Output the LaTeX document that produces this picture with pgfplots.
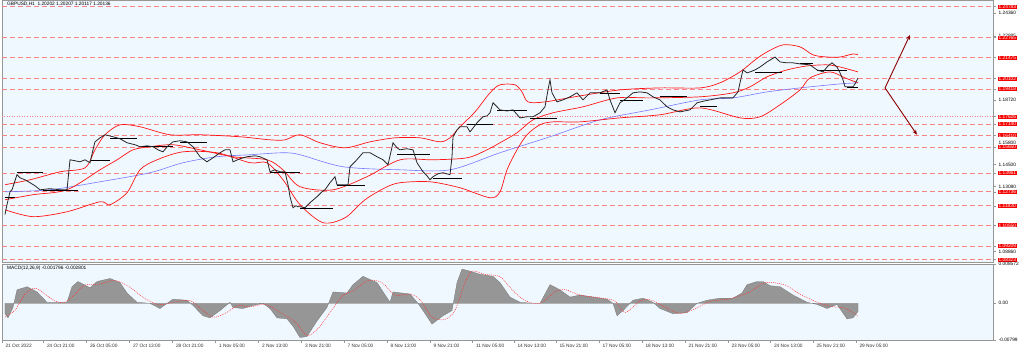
\documentclass[border=0pt]{standalone}
\usepackage{fontspec}
\setmainfont{Liberation Sans}
\usepackage{pgfplots}
\pgfplotsset{compat=1.18}
\usetikzlibrary{arrows.meta}
\definecolor{bgc}{RGB}{240,248,255}
\definecolor{lvl}{RGB}{255,130,130}
\definecolor{bandred}{RGB}{255,20,20}
\definecolor{maBlue}{RGB}{120,120,255}
\definecolor{arrowred}{RGB}{140,0,0}
\definecolor{boxred}{RGB}{245,0,0}
\definecolor{framec}{RGB}{150,150,150}
\definecolor{histc}{RGB}{150,150,150}
\pgfplotsset{
  mtbase/.style={
    scale only axis, width=991pt,
    xmin=2, xmax=993,
    clip mode=individual,
    axis background/.style={fill=bgc},
    axis line style={framec, line width=0.8pt},
    tick style={framec, line width=0.5pt},
    tick align=outside, major tick length=2.5pt,
    ytick pos=right,
    scaled y ticks=false,
    tick label style={font=\fontsize{4.8}{5.5}\selectfont, /pgf/number format/assume math mode=true},
    yticklabel style={anchor=west, xshift=2pt, inner xsep=1pt, inner ysep=0.3pt},
  }
}
\begin{document}
\begin{tikzpicture}
\useasboundingbox (0,0) rectangle (1024pt,351pt);
\fill[white] (0,0) rectangle (1024pt,351pt);
% ---------------- main price panel ----------------
\begin{axis}[mtbase,
  at={(2pt,89pt)}, anchor=south west, height=262pt,
  ymin=1.0817, ymax=1.2522,
  xtick=\empty,
  ytick={1.24360,1.22885,1.18720,1.14500,1.13080,1.08860},
  yticklabels={1.24360,1.22885,1.18720,1.14500,1.13080,1.08860},
  extra y ticks={1.24783,1.22765,1.21475,1.20102,1.19418,1.17626,1.17140,1.16410,1.15650,1.13961,1.12736,1.11830,1.10550,1.09209,1.08323},
  extra y tick labels={1.24783,1.22765,1.21475,1.20102,1.19418,1.17626,1.17140,1.16410,1.15650,1.13961,1.12736,1.11830,1.10550,1.09209,1.08323},
  extra y tick style={yticklabel style={fill=boxred, text=white}},
]
% support / resistance levels
\addplot[lvl, line width=0.9pt, dash pattern=on 5pt off 3pt, unbounded coords=jump] coordinates {
(2,1.24783)(993,1.24783)(993,nan)
(2,1.22765)(993,1.22765)(993,nan)
(2,1.21475)(993,1.21475)(993,nan)
(2,1.20102)(993,1.20102)(993,nan)
(2,1.19418)(993,1.19418)(993,nan)
(2,1.17140)(993,1.17140)(993,nan)
(2,1.16410)(993,1.16410)(993,nan)
(2,1.15650)(993,1.15650)(993,nan)
(2,1.13961)(993,1.13961)(993,nan)
(2,1.12736)(993,1.12736)(993,nan)
(2,1.11830)(993,1.11830)(993,nan)
(2,1.10550)(993,1.10550)(993,nan)
(2,1.09209)(993,1.09209)(993,nan)
(2,1.08323)(993,1.08323)
};
\addplot[lvl, line width=0.7pt, dash pattern=on 1pt off 1.5pt] coordinates {(2,1.17626)(993,1.17626)};
% long moving average (blue)
\addplot[maBlue, line width=0.6pt, smooth] coordinates {
(5,1.1274)(50,1.1287)(100,1.1339)(150,1.1398)(183,1.1463)(217,1.1502)(250,1.1515)(283,1.1528)(300,1.1515)(343,1.1437)(400,1.1417)(450,1.1417)(500,1.1528)(550,1.1632)(600,1.1742)(650,1.1807)(700,1.1872)(733,1.1885)(767,1.1924)(800,1.1950)(840,1.1976)(858,1.1983)
};
% Bollinger bands
\addplot[bandred, line width=0.7pt, smooth] coordinates {
(5,1.1320)(30,1.1352)(60,1.1404)(85,1.1430)(95,1.1547)(105,1.1645)(120,1.1710)(140,1.1697)(170,1.1645)(200,1.1645)(240,1.1632)(270,1.1612)(285,1.1612)(300,1.1645)(320,1.1593)(345,1.1560)(370,1.1599)(395,1.1625)(420,1.1625)(440,1.1599)(450,1.1625)(460,1.1697)(475,1.1794)(490,1.1918)(500,1.1970)(515,1.1970)(522,1.1924)(528,1.1859)(545,1.1859)(580,1.1898)(620,1.1937)(660,1.1950)(700,1.1950)(720,1.1983)(740,1.2054)(755,1.2132)(767,1.2184)(783,1.2230)(800,1.2217)(813,1.2165)(827,1.2151)(840,1.2151)(853,1.2171)(858,1.2165)
};
\addplot[bandred, line width=0.7pt, smooth] coordinates {
(5,1.1222)(33,1.1255)(67,1.1287)(100,1.1417)(117,1.1482)(133,1.1547)(150,1.1567)(173,1.1580)(200,1.1547)(233,1.1502)(267,1.1482)(283,1.1417)(300,1.1307)(333,1.1287)(367,1.1372)(400,1.1482)(433,1.1482)(467,1.1495)(487,1.1547)(500,1.1593)(517,1.1658)(533,1.1742)(553,1.1788)(583,1.1827)(617,1.1885)(650,1.1885)(700,1.1892)(733,1.1918)(750,1.1957)(767,1.2022)(787,1.2067)(807,1.2093)(827,1.2100)(840,1.2086)(858,1.2054)
};
\addplot[bandred, line width=0.7pt, smooth] coordinates {
(5,1.1157)(33,1.1112)(67,1.1144)(100,1.1209)(110,1.1190)(127,1.1268)(140,1.1417)(157,1.1482)(183,1.1534)(217,1.1528)(250,1.1463)(267,1.1463)(283,1.1352)(300,1.1190)(323,1.1073)(345,1.1105)(365,1.1222)(385,1.1300)(400,1.1333)(430,1.1339)(460,1.1300)(490,1.1235)(500,1.1274)(507,1.1417)(517,1.1547)(527,1.1645)(540,1.1710)(553,1.1729)(580,1.1729)(620,1.1755)(660,1.1775)(700,1.1820)(740,1.1755)(760,1.1762)(780,1.1840)(800,1.1937)(810,1.2015)(830,1.2054)(845,1.2015)(858,1.1983)
};
% period high/low marks (black segments)
\addplot[black, line width=0.6pt, unbounded coords=jump] coordinates {
(5,1.1235)(15,1.1235)(15,nan)
(17,1.1398)(43,1.1398)(43,nan)
(43,1.1281)(78,1.1281)(78,nan)
(90,1.1482)(110,1.1482)(110,nan)
(110,1.1619)(137,1.1619)(137,nan)
(143,1.1573)(173,1.1573)(173,nan)
(180,1.1599)(207,1.1599)(207,nan)
(270,1.1398)(300,1.1398)(300,nan)
(300,1.1164)(333,1.1164)(333,nan)
(337,1.1313)(365,1.1313)(365,nan)
(397,1.1515)(430,1.1515)(430,nan)
(433,1.1359)(462,1.1359)(462,nan)
(467,1.1710)(493,1.1710)(493,nan)
(497,1.1807)(527,1.1807)(527,nan)
(530,1.1755)(557,1.1755)(557,nan)
(600,1.1918)(620,1.1918)(620,nan)
(620,1.1872)(643,1.1872)(643,nan)
(660,1.1898)(687,1.1898)(687,nan)
(700,1.1827)(717,1.1827)(717,nan)
(755,1.2054)(782,1.2054)(782,nan)
(800,1.2113)(813,1.2113)(813,nan)
(817,1.2067)(847,1.2067)(847,nan)
(847,1.1957)(858,1.1957)
};
% price (H1 closes)
\addplot[black!85, line width=0.8pt] coordinates {
(5,1.1125)(7,1.1190)(10,1.1274)(12,1.1287)(17,1.1385)(20,1.1365)(25,1.1352)(30,1.1333)(35,1.1313)(40,1.1287)(50,1.1294)(60,1.1287)(67,1.1287)(70,1.1482)(75,1.1476)(80,1.1469)(85,1.1482)(90,1.1463)(93,1.1547)(95,1.1599)(100,1.1625)(105,1.1645)(113,1.1632)(120,1.1619)(127,1.1593)(135,1.1580)(140,1.1567)(147,1.1573)(153,1.1567)(158,1.1547)(163,1.1534)(168,1.1573)(173,1.1599)(180,1.1606)(187,1.1599)(193,1.1567)(200,1.1502)(207,1.1469)(213,1.1495)(220,1.1528)(225,1.1547)(230,1.1547)(233,1.1469)(240,1.1489)(247,1.1502)(255,1.1508)(260,1.1502)(267,1.1482)(270,1.1404)(275,1.1417)(280,1.1404)(285,1.1404)(288,1.1320)(290,1.1242)(293,1.1170)(296,1.1183)(298,1.1177)(300,1.1177)(305,1.1170)(310,1.1203)(317,1.1242)(322,1.1274)(325,1.1287)(330,1.1333)(335,1.1372)(337,1.1320)(342,1.1320)(348,1.1320)(350,1.1437)(355,1.1469)(363,1.1528)(370,1.1528)(377,1.1502)(383,1.1482)(388,1.1450)(393,1.1593)(397,1.1560)(400,1.1547)(407,1.1554)(413,1.1547)(417,1.1463)(423,1.1404)(427,1.1378)(430,1.1352)(433,1.1372)(438,1.1391)(443,1.1398)(450,1.1385)(452,1.1502)(453,1.1632)(457,1.1677)(460,1.1697)(467,1.1697)(470,1.1664)(474,1.1697)(477,1.1723)(483,1.1762)(487,1.1768)(490,1.1788)(493,1.1853)(497,1.1827)(500,1.1807)(507,1.1800)(513,1.1807)(520,1.1755)(527,1.1762)(533,1.1762)(540,1.1788)(545,1.1827)(548,1.1937)(550,1.2002)(552,1.1918)(557,1.1859)(563,1.1872)(570,1.1892)(577,1.1918)(583,1.1872)(590,1.1918)(600,1.1918)(607,1.1937)(610,1.1872)(615,1.1788)(620,1.1853)(627,1.1885)(633,1.1918)(640,1.1924)(647,1.1918)(653,1.1892)(660,1.1872)(667,1.1827)(673,1.1807)(680,1.1794)(690,1.1807)(697,1.1853)(705,1.1866)(710,1.1872)(720,1.1885)(733,1.1885)(738,1.1924)(740,1.1983)(743,1.2067)(747,1.2048)(750,1.2054)(755,1.2067)(760,1.2086)(767,1.2119)(775,1.2151)(780,1.2119)(787,1.2113)(793,1.2113)(800,1.2106)(810,1.2100)(817,1.2067)(823,1.2054)(828,1.2093)(832,1.2113)(837,1.2086)(840,1.2048)(843,1.2002)(845,1.1957)(849,1.1957)(853,1.1957)(855,1.1976)(857,1.2002)(858,1.2014)
};
% projection arrows
\addplot[arrowred, line width=0.9pt, -{Stealth[length=5pt,width=4pt]}] coordinates {(885,1.1950)(910,1.2295)};
\addplot[arrowred, line width=0.9pt, -{Stealth[length=5pt,width=4pt]}] coordinates {(885,1.1950)(917,1.1645)};
\node[anchor=north west, font=\fontsize{4.8}{5.5}\selectfont, inner sep=1pt] at (axis description cs:0.004,0.995) {GBPUSD,H1\ \ 1.20202 1.20207 1.20117 1.20136};
% scale label partly hidden behind the 1.15650 box in the reference
\node[anchor=west, font=\fontsize{4.8}{5.5}\selectfont, inner xsep=1pt, inner ysep=0.3pt, xshift=4.5pt, yshift=2.2pt] at (axis cs:993,1.15800) {1.15800};
\end{axis}
% ---------------- MACD panel ----------------
\begin{axis}[mtbase,
  at={(2pt,11pt)}, anchor=south west, height=76pt,
  ymin=-0.00799, ymax=0.008572,
  ytick={0.008572,0,-0.00799},
  yticklabels={0.008572,0.00,-0.00799},
  xtick={2,43.5,86.5,129.5,172.5,215.5,258.5,301.5,344,387,430,472.5,514,556,599,642,685,728,770.5,813,856},
  xticklabels={21 Oct 2022,24 Oct 21:00,26 Oct 05:00,27 Oct 13:00,28 Oct 21:00,1 Nov 05:00,2 Nov 13:00,3 Nov 21:00,7 Nov 05:00,8 Nov 13:00,9 Nov 21:00,11 Nov 05:00,14 Nov 13:00,15 Nov 21:00,17 Nov 05:00,18 Nov 13:00,21 Nov 21:00,23 Nov 05:00,24 Nov 13:00,25 Nov 21:00,29 Nov 05:00},
  xtick pos=bottom,
  xticklabel style={anchor=north west, xshift=0pt, yshift=1.5pt, text=black!80},
]
\addplot[fill=histc, draw=histc!80!black, line width=0.3pt] coordinates {
(5,-0.00226)(8,-0.00316)(13,-0.0009)(17,0.00294)(27,0.00362)(37,0.00249)(47,0.00023)(53,0.00023)(67,0.00023)(72,0.00362)(78,0.00475)(90,0.00339)(97,0.00475)(110,0.00542)(120,0.00452)(127,0.00226)(137,0.00023)(150,0)(160,-0.00113)(167,0)(173,0.0009)(187,0.00068)(193,-0.00045)(203,-0.00271)(210,-0.00316)(220,-0.00158)(230,0.00023)(233,-0.0009)(243,-0.00113)(253,-0.00045)(263,0)(270,-0.00113)(277,-0.00316)(287,-0.00339)(293,-0.00497)(300,-0.00746)(307,-0.00723)(317,-0.00384)(327,-0.0009)(333,0.00249)(347,0.00226)(353,0.00407)(363,0.00588)(377,0.00452)(390,0.00023)(393,0.00249)(410,0.00203)(418,0)(423,-0.00158)(432,-0.00452)(443,-0.00271)(452,-0.00158)(457,0.00452)(462,0.00746)(470,0.00701)(480,0.00633)(493,0.00588)(500,0.00452)(510,0.00136)(520,0.00023)(533,0)(540,0)(550,0.00407)(560,0.00294)(570,0.00136)(580,0.00181)(593,0.00136)(607,0.0009)(613,0)(617,-0.00271)(623,-0.00158)(633,0.00068)(643,0.00113)(653,0.00023)(660,-0.00113)(673,-0.00226)(687,-0.00203)(697,0)(707,0.00068)(720,0.00113)(733,0.00113)(742,0.00226)(747,0.00407)(757,0.00475)(763,0.00475)(770,0.00384)(780,0.00362)(793,0.00181)(807,0.00023)(817,-0.00023)(827,-0.00113)(837,-0.00023)(847,-0.00339)(853,-0.00316)(858,-0.00180)
} \closedcycle;
\addplot[red!80, line width=0.5pt, dash pattern=on 1pt off 1pt, smooth] coordinates {
(5,-0.0030)(15,-0.0015)(25,0.0020)(35,0.0033)(45,0.0020)(55,0.0005)(65,0.0002)(75,0.0020)(85,0.0040)(100,0.0042)(115,0.0050)(130,0.0035)(145,0.0010)(160,-0.0003)(175,0.0003)(190,0.0006)(200,-0.0010)(213,-0.0030)(225,-0.0022)(238,-0.0005)(250,-0.0008)(265,-0.0002)(280,-0.0020)(295,-0.0040)(307,-0.0070)(318,-0.0055)(330,-0.0020)(342,0.0015)(355,0.0030)(368,0.0050)(382,0.0045)(395,0.0018)(410,0.0020)(420,0.0008)(432,-0.0030)(445,-0.0035)(455,-0.0015)(465,0.0045)(472,0.0070)(485,0.0063)(500,0.0058)(512,0.0030)(525,0.0006)(540,0)(555,0.0025)(565,0.0030)(580,0.0018)(600,0.0012)(615,0.0005)(625,-0.0020)(640,0.0005)(650,0.0008)(665,-0.0008)(680,-0.0022)(695,-0.0012)(710,0.0004)(730,0.0010)(750,0.0025)(765,0.0045)(785,0.0040)(800,0.0020)(820,0)(835,-0.0008)(845,-0.0010)(858,-0.0028)
};
\node[anchor=north west, font=\fontsize{4.8}{5.5}\selectfont, inner sep=1pt] at (axis description cs:0.004,0.99) {MACD(12,26,9) -0.001796 -0.002801};
\end{axis}
\end{tikzpicture}
\end{document}
